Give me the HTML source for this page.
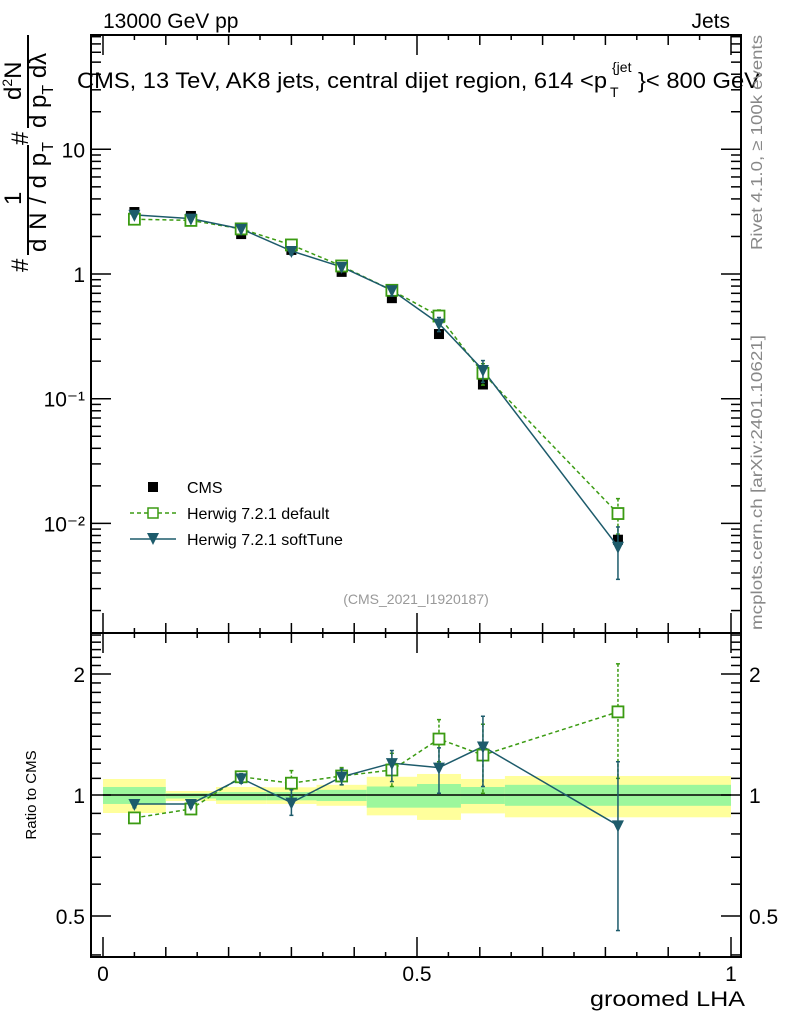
<!DOCTYPE html>
<html><head><meta charset="utf-8"><style>
html,body{margin:0;padding:0;background:#fff;}
svg{display:block;font-family:"Liberation Sans",sans-serif;}
</style></head><body>
<svg id="chart" width="786" height="1024" viewBox="0 0 786 1024" xmlns="http://www.w3.org/2000/svg">
<g id="bands"></g>
<g id="grid"></g>
<g id="series"></g>
<text x="103" y="28" font-size="21">13000 GeV pp</text>
<text x="730" y="28" font-size="21" text-anchor="end">Jets</text>
<g font-size="22">
 <text x="77" y="88" textLength="530" lengthAdjust="spacingAndGlyphs">CMS, 13 TeV, AK8 jets, central dijet region, 614 &lt;p</text>
 <text x="610" y="97" font-size="14">T</text>
 <text x="612" y="72" font-size="14">{jet</text>
 <text x="638" y="88" textLength="122" lengthAdjust="spacingAndGlyphs">}&lt; 800 GeV</text>
</g>
<text transform="translate(762,250) rotate(-90)" font-size="16" fill="#888" textLength="215" lengthAdjust="spacingAndGlyphs">Rivet 4.1.0, ≥ 100k events</text>
<text transform="translate(762,630) rotate(-90)" font-size="16" fill="#888" textLength="295" lengthAdjust="spacingAndGlyphs">mcplots.cern.ch [arXiv:2401.10621]</text>
<text x="416" y="604" font-size="14" fill="#999" text-anchor="middle">(CMS_2021_I1920187)</text>
<g font-size="24">
 <text transform="translate(28,272) rotate(-90)">#</text>
 <text transform="translate(21,205) rotate(-90)">1</text>
 <line x1="28" y1="145" x2="28" y2="255" stroke="#000" stroke-width="2"/>
 <text transform="translate(46,252) rotate(-90)" textLength="110">d N / d p<tspan font-size="16" dy="7">T</tspan></text>
 <text transform="translate(28,145) rotate(-90)">#</text>
 <text transform="translate(21,100) rotate(-90)">d<tspan font-size="14" dy="-9">2</tspan><tspan dy="9">N</tspan></text>
 <line x1="28" y1="35" x2="28" y2="128" stroke="#000" stroke-width="2"/>
 <text transform="translate(46,128) rotate(-90)">d p<tspan font-size="16" dy="7">T</tspan><tspan dy="-7"> dλ</tspan></text>
</g>
<text transform="translate(36,795) rotate(-90)" font-size="15" text-anchor="middle">Ratio to CMS</text>
<text x="745" y="1006" font-size="21" text-anchor="end" textLength="155" lengthAdjust="spacingAndGlyphs">groomed LHA</text>
<g font-size="16">
 <g><rect x="148" y="482" width="10" height="10" fill="#000"/><text x="187" y="493">CMS</text></g>
 <g><line x1="130" y1="513" x2="176" y2="513" stroke="#3b9b12" stroke-width="1.5" stroke-dasharray="4,3"/><rect x="148" y="508" width="10" height="10" fill="#fff" stroke="#3b9b12" stroke-width="1.5"/><text x="187" y="519">Herwig 7.2.1 default</text></g>
 <g><line x1="130" y1="539" x2="176" y2="539" stroke="#1d5b6b" stroke-width="1.5"/><path d="M147,533 L159,533 L153,545 Z" fill="#1d5b6b"/><text x="187" y="545">Herwig 7.2.1 softTune</text></g>
</g>
</svg>
<script>
const xVals=[0.05,0.14,0.22,0.30,0.38,0.46,0.535,0.605,0.82];
const binEdges=[0,0.1,0.18,0.26,0.34,0.42,0.5,0.57,0.64,1.0];
const cmsVals=[3.14,2.92,2.09,1.56,1.04,0.64,0.33,0.13,0.0074];
const defVals=[2.75,2.69,2.3,1.71,1.16,0.74,0.46,0.16,0.012];
const softVals=[2.98,2.78,2.3,1.53,1.14,0.74,0.40,0.17,0.0065];
const defRatio=[0.877,0.923,1.11,1.07,1.115,1.154,1.378,1.257,1.61];
const defRatioHi=[0.89,0.94,1.14,1.15,1.17,1.27,1.54,1.50,2.12];
const defRatioLo=[0.865,0.905,1.08,0.99,1.06,1.05,1.21,1.01,1.10];
const softRatio=[0.95,0.95,1.10,0.957,1.11,1.20,1.17,1.32,0.84];
const softRatioHi=[0.97,0.97,1.13,1.03,1.16,1.29,1.31,1.57,1.21];
const softRatioLo=[0.93,0.93,1.07,0.89,1.06,1.08,1.01,1.05,0.46];
const bandYellowHi=[1.096,1.023,1.047,1.045,1.06,1.11,1.128,1.096,1.115];
const bandYellowLo=[0.902,0.966,0.95,0.95,0.94,0.89,0.867,0.90,0.88];
const bandGreenHi=[1.047,1.01,1.017,1.017,1.03,1.05,1.065,1.047,1.06];
const bandGreenLo=[0.95,0.98,0.97,0.97,0.966,0.93,0.93,0.95,0.94];
const mainTicks=[0.01,0.1,1,10];
const mainTickLabels=["10⁻²","10⁻¹","1","10"];
const ratioTicks=[0.5,1,2];
const ratioTickLabels=["0.5","1","2"];
const xTicks=[0,0.5,1];
const xTickLabels=["0","0.5","1"];

const NS="http://www.w3.org/2000/svg";
const L=91,R=741,T=35,MB=633,RB=957;
const X=v=>103+628*v;
const Y=v=>274-124.7*Math.log10(v);
const YR=v=>795-121*Math.log2(v);
function mk(parent,tag,attrs){const e=document.createElementNS(NS,tag);for(const k in attrs)e.setAttribute(k,attrs[k]);parent.appendChild(e);return e;}
const bands=document.getElementById('bands'),grid=document.getElementById('grid'),ser=document.getElementById('series');

for(let i=0;i<bandYellowHi.length;i++){
 const x0=X(binEdges[i]),x1=X(binEdges[i+1]);
 const y=mk(bands,'rect',{x:x0,y:YR(bandYellowHi[i]),width:x1-x0,height:YR(bandYellowLo[i])-YR(bandYellowHi[i]),fill:'#ffff9c'});
 
 
 const g=mk(bands,'rect',{x:x0,y:YR(bandGreenHi[i]),width:x1-x0,height:YR(bandGreenLo[i])-YR(bandGreenHi[i]),fill:'#9cf79c'});
 
 
}
mk(grid,'line',{x1:X(0),x2:X(1),y1:YR(1),y2:YR(1),stroke:'#000','stroke-width':1.5});
mk(grid,'rect',{x:L,y:T,width:R-L,height:MB-T,fill:'none',stroke:'#000','stroke-width':2});
mk(grid,'rect',{x:L,y:MB,width:R-L,height:RB-MB,fill:'none',stroke:'#000','stroke-width':2});
for(let d=-3;d<=1;d++){for(let m=1;m<=9;m++){const v=m*Math.pow(10,d);const y=Y(v);if(y<T||y>MB)continue;const len=m==1?20:10;
 mk(grid,'line',{x1:L,x2:L+len,y1:y,y2:y,stroke:'#000','stroke-width':1.5});mk(grid,'line',{x1:R,x2:R-len,y1:y,y2:y,stroke:'#000','stroke-width':1.5});}}
mainTicks.forEach((v,i)=>{const t=mk(grid,'text',{x:L-6,y:Y(v)+8,'font-size':21,'text-anchor':'end'});t.textContent=mainTickLabels[i];
 
 });
for(let v=0.4;v<=2.6;v+=0.1){const r=Math.round(v*10)/10;const y=YR(r);if(y<MB+1||y>RB-1)continue;const len=(r==0.5||r==1||r==2)?20:10;
 mk(grid,'line',{x1:L,x2:L+len,y1:y,y2:y,stroke:'#000','stroke-width':1.5});mk(grid,'line',{x1:R,x2:R-len,y1:y,y2:y,stroke:'#000','stroke-width':1.5});}
ratioTicks.forEach((v,i)=>{const t=mk(grid,'text',{x:L-6,y:YR(v)+8,'font-size':21,'text-anchor':'end'});t.textContent=ratioTickLabels[i];
 
 
 const t2=mk(grid,'text',{x:R+8,y:YR(v)+8,'font-size':21});t2.textContent=ratioTickLabels[i];
 
 });
for(let k=0;k<=20;k++){const v=k*0.05;const x=X(v);const len=(k%10==0)?20:(k%2==0?10:5);
 [[MB,-1],[RB,-1],[T,1],[MB,1]].forEach(([yb,s])=>mk(grid,'line',{x1:x,x2:x,y1:yb,y2:yb+s*len,stroke:'#000','stroke-width':1.5}));}
xTicks.forEach((v,i)=>{const t=mk(grid,'text',{x:X(v),y:981,'font-size':21,'text-anchor':'middle'});t.textContent=xTickLabels[i];
 
 });

function line(vals,yf,color,dash,name){const pts=vals.map((v,i)=>X(xVals[i])+','+yf(v)).join(' ');
 const p=mk(ser,'polyline',{points:pts,fill:'none',stroke:color,'stroke-width':1.5,'stroke-dasharray':dash||'none'});
 
 }
function err(x,y1,y2,color,dash){mk(ser,'line',{x1:x,x2:x,y1:y1,y2:y2,stroke:color,'stroke-width':1.5,'stroke-dasharray':dash||'none'});
 mk(ser,'line',{x1:x-2,x2:x+2,y1:y1,y2:y1,stroke:color,'stroke-width':1.5});mk(ser,'line',{x1:x-2,x2:x+2,y1:y2,y2:y2,stroke:color,'stroke-width':1.5});}
function sq(x,y,color,name){const r=mk(ser,'rect',{x:x-5.5,y:y-5.5,width:11,height:11,fill:'#fff',stroke:color,'stroke-width':1.8});
 
 }
function tri(x,y,color,name){const p=mk(ser,'path',{d:`M${x-6},${y-5} L${x+6},${y-5} L${x},${y+7} Z`,fill:color});
 
 }
const GC='#3b9b12',TC='#1d5b6b';
cmsVals.forEach((v,i)=>{const r=mk(ser,'rect',{x:X(xVals[i])-5,y:Y(v)-5,width:10,height:10,fill:'#000'});
 
 });
line(defVals,Y,GC,'4,3','default-line');
line(softVals,Y,TC,null,'softtune-line');
defVals.forEach((v,i)=>{const x=X(xVals[i]);err(x,Y(v*defRatioHi[i]/defRatio[i]),Y(v*defRatioLo[i]/defRatio[i]),GC,'3,2');sq(x,Y(v),GC,'default-point');});
softVals.forEach((v,i)=>{const x=X(xVals[i]);err(x,Y(v*softRatioHi[i]/softRatio[i]),Y(v*softRatioLo[i]/softRatio[i]),TC);tri(x,Y(v),TC,'softtune-point');});
line(defRatio,YR,GC,'4,3','default-ratio-line');
line(softRatio,YR,TC,null,'softtune-ratio-line');
defRatio.forEach((v,i)=>{const x=X(xVals[i]);err(x,YR(defRatioHi[i]),YR(defRatioLo[i]),GC,'3,2');sq(x,YR(v),GC,'default-ratio-point');});
softRatio.forEach((v,i)=>{const x=X(xVals[i]);err(x,YR(softRatioHi[i]),YR(softRatioLo[i]),TC);tri(x,YR(v),TC,'softtune-ratio-point');});
</script>
</body></html>
